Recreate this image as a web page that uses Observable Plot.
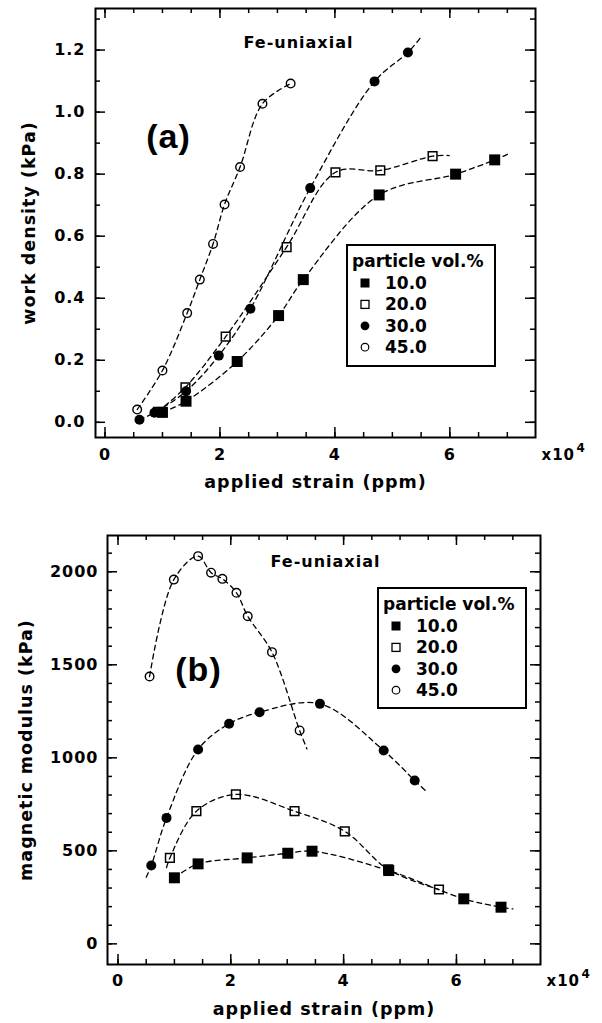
<!DOCTYPE html>
<html>
<head>
<meta charset="utf-8">
<script src="https://cdn.jsdelivr.net/npm/d3@7"></script>
<script src="https://cdn.jsdelivr.net/npm/@observablehq/plot@0.6"></script>
<style>
  body { margin: 0; background: #fff; }
  #wrap { position: relative; width: 602px; height: 1023px; overflow: hidden; background: #fff; }
  #wrap > svg { display: block; }
</style>
</head>
<body>
<div id="wrap"></div>
<script>
// ---------- data ----------
const seriesNames = ["10.0", "20.0", "30.0", "45.0"];

// (a) work density (kPa) vs applied strain (x10^4 ppm)
const aStrain10 = [1.00, 1.41, 2.30, 3.02, 3.45, 4.77, 6.10, 6.78];
const aWork10   = [0.032, 0.068, 0.196, 0.344, 0.460, 0.733, 0.800, 0.846];
const aStrain20 = [0.92, 1.40, 2.10, 3.16, 4.01, 4.79, 5.70];
const aWork20   = [0.034, 0.113, 0.276, 0.565, 0.806, 0.812, 0.858];
const aStrain30 = [0.60, 0.86, 1.41, 1.98, 2.53, 3.57, 4.69, 5.27];
const aWork30   = [0.008, 0.031, 0.100, 0.215, 0.366, 0.755, 1.099, 1.192];
const aStrain45 = [0.56, 1.00, 1.43, 1.65, 1.88, 2.08, 2.35, 2.74, 3.23];
const aWork45   = [0.041, 0.167, 0.352, 0.460, 0.575, 0.702, 0.823, 1.027, 1.092];
// where the dashed fit curves run out beyond the markers
const aCurveEndStrain = [7.00, 5.99, 5.49, null];
const aCurveEndWork   = [0.864, 0.860, 1.240, null];

// (b) magnetic modulus (kPa) vs applied strain (x10^4 ppm)
const bStrain10  = [1.00, 1.42, 2.29, 3.01, 3.44, 4.80, 6.13, 6.79];
const bModulus10 = [355, 430, 462, 487, 498, 394, 242, 197];
const bStrain20  = [0.92, 1.39, 2.09, 3.13, 4.02, 4.79, 5.69];
const bModulus20 = [462, 713, 803, 713, 605, 400, 292];
const bStrain30  = [0.59, 0.86, 1.42, 1.97, 2.51, 3.58, 4.71, 5.26];
const bModulus30 = [421, 677, 1045, 1183, 1245, 1290, 1039, 878];
const bStrain45  = [0.56, 0.99, 1.42, 1.65, 1.85, 2.10, 2.30, 2.73, 3.22];
const bModulus45 = [1437, 1958, 2084, 1995, 1962, 1887, 1761, 1568, 1147];
const bCurveStartStrain  = [null, 0.86, 0.50, null];
const bCurveStartModulus = [null, 410, 358, null];
const bCurveEndStrain    = [7.00, null, 5.49, 3.35];
const bCurveEndModulus   = [188, null, 812, 1048];

// tick labels
const xTickLabels  = [0, 2, 4, 6];
const aYTickLabels = [0, 0.2, 0.4, 0.6, 0.8, 1.0, 1.2];
const bYTickLabels = [0, 500, 1000, 1500, 2000];

// ---------- helpers ----------
const FONT = "'DejaVu Sans', 'Liberation Sans', Arial, sans-serif";

function rows(name, xs, ys) { return xs.map((x, i) => ({series: name, x, y: ys[i]})); }

function curveRows(points, startX, startY, endX, endY) {
  const out = [];
  seriesNames.forEach((s, k) => {
    const pts = points.filter(d => d.series === s).map(d => ({...d}));
    if (startX && startX[k] != null) pts.unshift({series: s, x: startX[k], y: startY[k]});
    if (endX && endX[k] != null) pts.push({series: s, x: endX[k], y: endY[k]});
    out.push(...pts);
  });
  return out;
}

const markerStyle = {
  "10.0": {symbol: "square", fill: "black", stroke: "none", r: 6.2},
  "20.0": {symbol: "square", fill: "none", stroke: "black", strokeWidth: 1.5, r: 4.9},
  "30.0": {symbol: "circle", fill: "black", stroke: "none", r: 5},
  "45.0": {symbol: "circle", fill: "none", stroke: "black", strokeWidth: 1.4, r: 4.3}
};
// open markers first, filled markers on top
const drawOrder = ["20.0", "45.0", "10.0", "30.0"];

function panel(o) {
  const fw = o.width - o.ml - o.mr, fh = o.height - o.mt - o.mb;
  const xMinor = d3.range(0, 7.001, 0.5);
  const marks = [
    Plot.line(o.curves, {x: "x", y: "y", z: "series", curve: "catmull-rom",
      stroke: "black", strokeWidth: 1.3, strokeDasharray: "5,4"}),
    ...drawOrder.map(s => Plot.dot(o.points.filter(d => d.series === s), {x: "x", y: "y", ...markerStyle[s]})),
    Plot.frame({stroke: "black", strokeWidth: 2}),
    // inward ticks on all four sides
    Plot.tickX(xMinor, {x: d => d, insetTop: fh - 5, strokeWidth: 1.5}),
    Plot.tickX(xTickLabels, {x: d => d, insetTop: fh - 10, strokeWidth: 1.5}),
    Plot.tickX(xMinor, {x: d => d, insetBottom: fh - 5, strokeWidth: 1.5}),
    Plot.tickX(xTickLabels, {x: d => d, insetBottom: fh - 10, strokeWidth: 1.5}),
    Plot.tickY(o.yMinor, {y: d => d, insetRight: fw - 5, strokeWidth: 1.5}),
    Plot.tickY(o.yLabels, {y: d => d, insetRight: fw - 10, strokeWidth: 1.5}),
    Plot.tickY(o.yMinor, {y: d => d, insetLeft: fw - 5, strokeWidth: 1.5}),
    Plot.tickY(o.yLabels, {y: d => d, insetLeft: fw - 10, strokeWidth: 1.5}),
    // annotations
    Plot.text([o.title], {text: d => d, frameAnchor: "top-left", dx: o.titleDx, dy: o.titleDy,
      textAnchor: "start", lineAnchor: "middle", fontSize: 16}),
    Plot.text([o.tag], {text: d => d, frameAnchor: "top-left", dx: o.tagDx, dy: o.tagDy,
      textAnchor: "middle", lineAnchor: "middle", fontSize: 34, fontFamily: "'Liberation Sans', Arial, sans-serif"}),
    Plot.text([o.xLabel], {text: d => d, frameAnchor: "bottom", dy: o.xLabelDy,
      textAnchor: "middle", lineAnchor: "middle", fontSize: 17.5}),
    Plot.text([o.yLabel], {text: d => d, frameAnchor: "left", dx: o.yLabelDx, rotate: -90,
      textAnchor: "middle", lineAnchor: "middle", fontSize: 17.5}),
    Plot.text(["x10"], {text: d => d, frameAnchor: "bottom-right", dx: 6, dy: o.x10Dy,
      textAnchor: "start", lineAnchor: "middle", fontSize: 15}),
    Plot.text(["4"], {text: d => d, frameAnchor: "bottom-right", dx: 41, dy: o.x10Dy - 7,
      textAnchor: "start", lineAnchor: "middle", fontSize: 12})
  ];
  return Plot.plot({
    width: o.width, height: o.height,
    marginLeft: o.ml, marginRight: o.mr, marginTop: o.mt, marginBottom: o.mb,
    x: {domain: o.xDomain, ticks: xTickLabels, tickSize: 0, tickPadding: o.xPad, tickFormat: d => String(d), label: null},
    y: {domain: o.yDomain, ticks: o.yLabels, tickSize: 0, tickPadding: o.yPad, tickFormat: o.yFormat, label: null},
    style: {fontFamily: FONT, fontWeight: "bold", fontSize: "16px", letterSpacing: "1px",
      color: "black", background: "white", overflow: "visible"},
    marks
  });
}

function legend(left, top, h) {
  const svg = d3.select("#wrap").append("svg")
    .attr("width", 150).attr("height", h)
    .style("position", "absolute").style("left", left + "px").style("top", top + "px")
    .style("overflow", "visible");
  svg.append("rect").attr("x", 1).attr("y", 1).attr("width", 148).attr("height", h - 2)
    .attr("fill", "white").attr("stroke", "black").attr("stroke-width", 2);
  const t = {"font-family": FONT, "font-weight": "bold", "font-size": "17px", fill: "black"};
  const title = svg.append("text").attr("x", 6).attr("y", 22.5).text("particle vol.%");
  Object.entries(t).forEach(([k, v]) => title.attr(k, v));
  seriesNames.forEach((s, i) => {
    const y = 45 + i * 21.4, cy = y - 6, cx = 19;
    if (s === "10.0") svg.append("rect").attr("x", cx - 4.5).attr("y", cy - 4.5).attr("width", 9).attr("height", 9).attr("fill", "black");
    if (s === "20.0") svg.append("rect").attr("x", cx - 4).attr("y", cy - 4).attr("width", 8).attr("height", 8).attr("fill", "white").attr("stroke", "black").attr("stroke-width", 1.3);
    if (s === "30.0") svg.append("circle").attr("cx", cx).attr("cy", cy).attr("r", 4.4).attr("fill", "black");
    if (s === "45.0") svg.append("circle").attr("cx", cx).attr("cy", cy).attr("r", 3.8).attr("fill", "white").attr("stroke", "black").attr("stroke-width", 1.2);
    const tx = svg.append("text").attr("x", 39).attr("y", y).text(s);
    Object.entries(t).forEach(([k, v]) => tx.attr(k, v));
  });
}

// ---------- build ----------
const aPoints = [
  ...rows("10.0", aStrain10, aWork10), ...rows("20.0", aStrain20, aWork20),
  ...rows("30.0", aStrain30, aWork30), ...rows("45.0", aStrain45, aWork45)
];
const bPoints = [
  ...rows("10.0", bStrain10, bModulus10), ...rows("20.0", bStrain20, bModulus20),
  ...rows("30.0", bStrain30, bModulus30), ...rows("45.0", bStrain45, bModulus45)
];

const wrap = document.getElementById("wrap");

wrap.append(panel({
  width: 602, height: 500, ml: 95, mr: 67, mt: 8, mb: 63,
  xDomain: [-0.165, 7.49], yDomain: [-0.049, 1.334],
  points: aPoints, curves: curveRows(aPoints, null, null, aCurveEndStrain, aCurveEndWork),
  yLabels: aYTickLabels, yMinor: d3.range(0, 1.3001, 0.1), yFormat: ".1f",
  xPad: 11.5, yPad: 10, x10Dy: 18,
  title: "Fe-uniaxial", titleDx: 148, titleDy: 34.6,
  tag: "(a)", tagDx: 73, tagDy: 129,
  xLabel: "applied strain (ppm)", xLabelDy: 45,
  yLabel: "work density (kPa)", yLabelDx: -66
}));

wrap.append(panel({
  width: 602, height: 523, ml: 107, mr: 62, mt: 35, mb: 59,
  xDomain: [-0.186, 7.49], yDomain: [-111, 2195],
  points: bPoints, curves: curveRows(bPoints, bCurveStartStrain, bCurveStartModulus, bCurveEndStrain, bCurveEndModulus),
  yLabels: bYTickLabels, yMinor: d3.range(0, 2100.1, 100), yFormat: d => String(d),
  xPad: 10, yPad: 9, x10Dy: 17,
  title: "Fe-uniaxial", titleDx: 163, titleDy: 26.6,
  tag: "(b)", tagDx: 91, tagDy: 135,
  xLabel: "applied strain (ppm)", xLabelDy: 45,
  yLabel: "magnetic modulus (kPa)", yLabelDx: -81
}));

legend(346, 244, 123);
legend(376.7, 586.7, 122);
</script>
</body>
</html>
